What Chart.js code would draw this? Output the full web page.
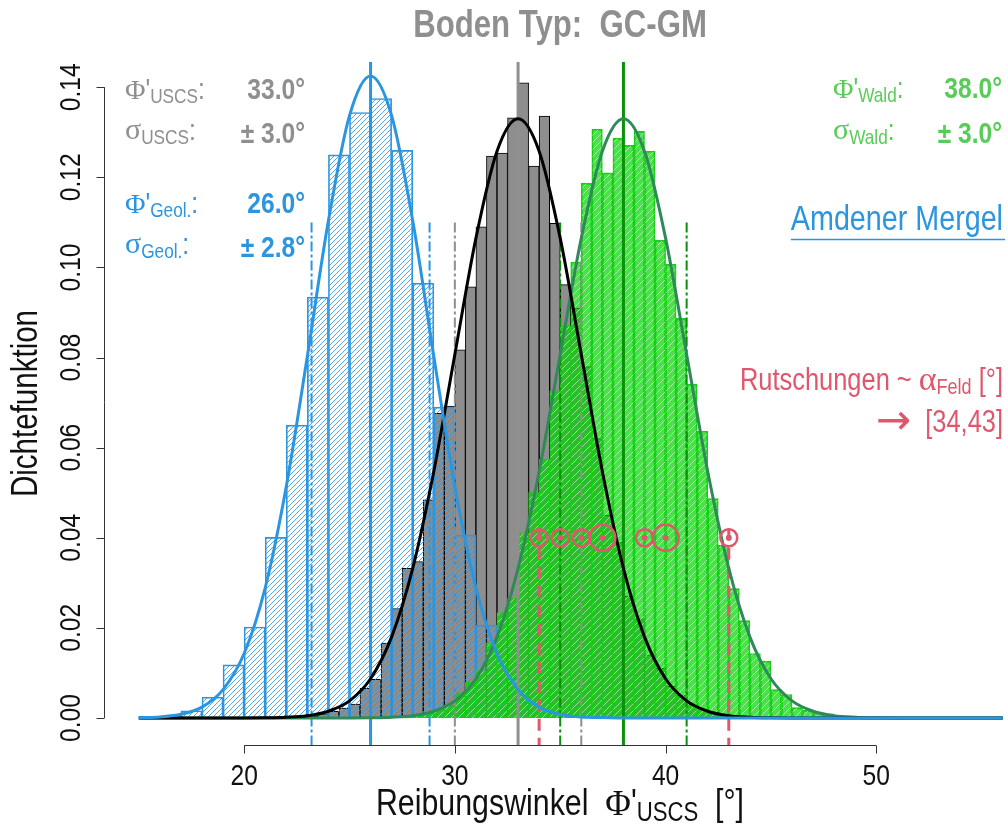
<!DOCTYPE html>
<html>
<head>
<meta charset="utf-8">
<script src="https://cdn.jsdelivr.net/npm/chart.js@4.4.1/dist/chart.umd.min.js"></script>
<style>
  html, body { margin: 0; padding: 0; background: #fff; overflow: hidden; }
  canvas { display: block; }
</style>
</head>
<body>
<canvas id="chart" width="1008" height="830"></canvas>
<script>
// ---- data ----
const geolMean = 26.0, geolSd = 2.8;   // Amdener Mergel (blue)
const uscsMean = 33.0, uscsSd = 3.0;   // USCS GC-GM (grey)
const waldMean = 38.0, waldSd = 3.0;   // Wald (green)

// blue histogram, bin width 1 starting at 16
const blueStart = 16, blueWidth = 1;
const blueHist = [0.0004, 0.0016, 0.0046, 0.0118, 0.0202, 0.0401, 0.065, 0.0934, 0.125, 0.1344,
                  0.1375, 0.126, 0.0965, 0.069, 0.0406, 0.0206, 0.0088, 0.0035, 0.0012];

// grey histogram, bin width 0.5 starting at 23
const greyStart = 23, greyWidth = 0.5;
const greyHist = [0.0004, 0.0009, 0.0015, 0.0022, 0.0031, 0.0066, 0.0086, 0.0166, 0.0243, 0.0332,
                  0.0347, 0.0484, 0.0676, 0.0692, 0.0817, 0.0957, 0.109, 0.1247, 0.1254, 0.1332,
                  0.141, 0.1225, 0.1336, 0.1098, 0.0962, 0.091, 0.078, 0.062, 0.045, 0.039,
                  0.027, 0.022, 0.014, 0.011, 0.007, 0.005, 0.003, 0.002, 0.001, 0.0006];

// green histogram, bin width 0.5 starting at 27.5
const greenStart = 27.5, greenWidth = 0.5;
const greenHist = [0.0003, 0.0006, 0.001, 0.0017, 0.0029, 0.0055, 0.008, 0.0105, 0.0166, 0.0234,
                   0.0266, 0.0411, 0.05, 0.0574, 0.0726, 0.087, 0.1012, 0.1187, 0.1307, 0.121,
                   0.1287, 0.1271, 0.1302, 0.1258, 0.106, 0.1007, 0.0887, 0.0741, 0.0637, 0.0487,
                   0.0383, 0.0287, 0.0216, 0.0143, 0.0126, 0.0063, 0.0052, 0.0023, 0.0017, 0.0011, 0.0009];

// density curves, read at whole degrees
const curveX = [15, 16, 17, 18, 19, 20, 21, 22, 23, 24, 25, 26, 27, 28, 29, 30, 31, 32, 33, 34, 35,
                36, 37, 38, 39, 40, 41, 42, 43, 44, 45, 46, 47, 48, 49, 50, 51, 52, 53, 54, 55, 56];
const blueCurve = [0.00006, 0.00024, 0.00081, 0.0024, 0.0063, 0.0143, 0.0289, 0.0514, 0.0803, 0.1104,
                   0.1337, 0.1425, 0.1337, 0.1104, 0.0803, 0.0514, 0.0289, 0.0143, 0.0063, 0.0024,
                   0.0008, 0.0002, 0.0001, 0, 0, 0, 0, 0, 0, 0, 0, 0, 0, 0, 0, 0, 0, 0, 0, 0, 0, 0];
const greyCurve = [0, 0, 0, 0, 0, 0, 0.00004, 0.00016, 0.0005, 0.0015, 0.0038, 0.0087, 0.018, 0.0332,
                   0.0547, 0.0807, 0.1065, 0.1258, 0.133, 0.1258, 0.1065, 0.0807, 0.0547, 0.0332, 0.018,
                   0.0087, 0.0038, 0.0015, 0.0005, 0.00016, 0.00004, 0, 0, 0, 0, 0, 0, 0, 0, 0, 0, 0];
const greenCurve = [0, 0, 0, 0, 0, 0, 0, 0, 0, 0, 0, 0.00004, 0.00016, 0.0005, 0.0015, 0.0038, 0.0087,
                    0.018, 0.0332, 0.0547, 0.0807, 0.1065, 0.1258, 0.133, 0.1258, 0.1065, 0.0807,
                    0.0547, 0.0332, 0.018, 0.0087, 0.0038, 0.0015, 0.0005, 0.00016, 0.00004, 0, 0, 0, 0, 0, 0];

// landslides (field slope angles), count per angle
const rutschX = [34, 35, 36, 37, 39, 40, 43];
const rutschN = [1, 1, 1, 2, 1, 2, 1];
const rutschLevel = 0.04;
const rutschRange = [34, 43];
const sdLineTop = 0.11;

const xTicks = [20, 30, 40, 50];
const yTicks = [0, 0.02, 0.04, 0.06, 0.08, 0.10, 0.12, 0.14];

// ---- colours ----
const BLUE = '#2B95E0', GREY = '#8F8F8F', GREEN_TXT = '#58CC58', GREEN_LINE = '#0B900B';
const SEAGREEN = '#2E8B57', RED = '#E0566D';

// ---- fonts ----
function hasFont(name) {
    const c = document.createElement('canvas').getContext('2d');
    c.font = '40px monospace';
    const a = c.measureText('abcdefghijklmnopqrstuvw').width;
    c.font = `40px "${name}", monospace`;
    const b = c.measureText('abcdefghijklmnopqrstuvw').width;
    return a !== b;
}
const narrow = hasFont('Liberation Sans Narrow');
const SANS = narrow ? '"Liberation Sans Narrow"' : '"Liberation Sans", Arial';
const SX = narrow ? 1 : 0.82;
const SERIF = '"Liberation Serif", "DejaVu Serif", serif';

const canvas = document.getElementById('chart');
const ctx = canvas.getContext('2d');

function fontOf(p) {
    return `${p.bold ? 'bold ' : ''}${p.size}px ${p.serif ? SERIF : (p.family || SANS)}`;
}

// draw a row of text pieces (sub-/superscripts, symbols) on one baseline
function drawRich(g, parts, x, y, align, color, rotate) {
    let total = 0;
    parts.forEach(p => {
        g.font = fontOf(p);
        p.w = g.measureText(p.s).width * (p.serif || p.family ? 1 : SX);
        total += p.w;
    });
    g.save();
    g.translate(x, y);
    if (rotate) g.rotate(rotate);
    let cx = align === 'right' ? -total : align === 'center' ? -total / 2 : 0;
    const start = cx;
    g.fillStyle = color;
    g.textBaseline = 'alphabetic';
    g.textAlign = 'left';
    parts.forEach(p => {
        g.save();
        g.font = fontOf(p);
        g.translate(cx, p.dy || 0);
        if (!(p.serif || p.family)) g.scale(SX, 1);
        g.fillText(p.s, 0, 0);
        g.restore();
        cx += p.w;
    });
    g.restore();
    return { left: x + start, right: x + start + total };
}

// ---- hatch patterns ----
function hatch(size, bg, line, lw) {
    const c = document.createElement('canvas');
    c.width = c.height = size;
    const g = c.getContext('2d');
    if (bg) { g.fillStyle = bg; g.fillRect(0, 0, size, size); }
    g.strokeStyle = line;
    g.lineWidth = lw;
    g.beginPath();
    g.moveTo(0, size); g.lineTo(size, 0);
    g.moveTo(-size / 2, size / 2); g.lineTo(size / 2, -size / 2);
    g.moveTo(size / 2, size * 1.5); g.lineTo(size * 1.5, size / 2);
    g.stroke();
    return ctx.createPattern(c, 'repeat');
}
const bluePattern = hatch(5, null, 'rgba(43,149,224,0.9)', 0.9);
const greenPattern = hatch(7, 'rgba(0,211,0,0.70)', 'rgba(255,255,255,0.5)', 1);

const toBars = (start, width, vals) => vals.map((v, i) => ({ x: start + (i + 0.5) * width, y: v }));
const toLine = (ys) => curveX.map((x, i) => ({ x: x, y: ys[i] }));

const X_MIN = 13.35, X_MAX = 56.25;
const hiddenX = {
    type: 'linear', min: X_MIN, max: X_MAX, display: false, offset: false,
    grid: { offset: false },
    afterBuildTicks: axis => { axis.ticks = []; }
};

// ---- reference lines, axes and texts ----
function vline(chart, x, yTop, color, width, dash) {
    const area = chart.chartArea;
    const px = chart.scales.x.getPixelForValue(x);
    const top = yTop == null ? area.top : chart.scales.y.getPixelForValue(yTop);
    const g = chart.ctx;
    g.save();
    g.strokeStyle = color;
    g.lineWidth = width;
    g.setLineDash(dash || []);
    g.beginPath();
    g.moveTo(px, top);
    g.lineTo(px, area.bottom);
    g.stroke();
    g.restore();
}

function drawRefLines(chart) {
    const dashDot = [10, 3, 3, 3];
    vline(chart, geolMean - geolSd, sdLineTop, BLUE, 2, dashDot);
    vline(chart, geolMean + geolSd, sdLineTop, BLUE, 2, dashDot);
    vline(chart, uscsMean - uscsSd, sdLineTop, GREY, 2, dashDot);
    vline(chart, uscsMean + uscsSd, sdLineTop, GREY, 2, dashDot);
    vline(chart, waldMean - waldSd, sdLineTop, GREEN_LINE, 2, dashDot);
    vline(chart, waldMean + waldSd, sdLineTop, GREEN_LINE, 2, dashDot);
    vline(chart, rutschRange[0], rutschLevel + 0.002, RED, 3, [12, 7]);
    vline(chart, rutschRange[1], rutschLevel + 0.002, RED, 3, [12, 7]);
    vline(chart, geolMean, null, BLUE, 3);
    vline(chart, uscsMean, null, GREY, 3);
    vline(chart, waldMean, null, GREEN_LINE, 3);
}

function drawAxes(chart) {
    const g = chart.ctx, xs = chart.scales.x, ys = chart.scales.y, area = chart.chartArea;
    g.save();
    g.strokeStyle = '#333';
    g.lineWidth = 1;
    const yA = Math.round(area.bottom) + 0.5;
    g.beginPath();
    g.moveTo(xs.getPixelForValue(xTicks[0]), yA);
    g.lineTo(xs.getPixelForValue(xTicks[xTicks.length - 1]), yA);
    xTicks.forEach(t => {
        const px = Math.round(xs.getPixelForValue(t)) + 0.5;
        g.moveTo(px, yA); g.lineTo(px, yA + 8);
    });
    const xA = Math.round(area.left) + 0.5;
    g.moveTo(xA, ys.getPixelForValue(yTicks[0]));
    g.lineTo(xA, ys.getPixelForValue(yTicks[yTicks.length - 1]));
    yTicks.forEach(t => {
        const py = Math.round(ys.getPixelForValue(t)) + 0.5;
        g.moveTo(xA, py); g.lineTo(xA - 8, py);
    });
    g.stroke();
    g.restore();

    xTicks.forEach(t => drawRich(g, [{ s: String(t), size: 30 }], xs.getPixelForValue(t), yA + 39, 'center', '#111'));
    yTicks.forEach(t => drawRich(g, [{ s: t.toFixed(2), size: 30 }], 80, ys.getPixelForValue(t), 'center', '#111', -Math.PI / 2));

    const midX = (area.left + area.right) / 2;
    drawRich(g, [
        { s: 'Reibungswinkel  ', size: 37 },
        { s: 'Φ', size: 35, serif: true },
        { s: "'", size: 37 },
        { s: 'USCS', size: 27, dy: 6 },
        { s: '  [°]', size: 37 }
    ], midX + 4, 815, 'center', '#111');
    drawRich(g, [{ s: 'Dichtefunktion', size: 36 }], 37, (area.top + area.bottom) / 2, 'center', '#111', -Math.PI / 2);
}

function statRow(g, sym, sub, value, xl, xr, y, color) {
    const parts = sym === 'Φ'
        ? [{ s: 'Φ', size: 28, serif: true }, { s: "'", size: 30 }, { s: sub, size: 21, dy: 4 }, { s: ':', size: 30 }]
        : [{ s: 'σ', size: 30, serif: true, dy: -4 }, { s: sub, size: 21, dy: 1 }, { s: ':', size: 30, dy: -3 }];
    drawRich(g, parts, xl, y, 'left', color);
    drawRich(g, [{ s: value, size: 30, bold: true }], xr, y, 'right', color);
}

function drawTexts(chart) {
    const g = chart.ctx, area = chart.chartArea;
    drawRich(g, [{ s: 'Boden Typ:  GC-GM', size: 38, bold: true }], (area.left + area.right) / 2 + 4, 37, 'center', GREY);

    statRow(g, 'Φ', 'USCS', uscsMean.toFixed(1) + '°', 125, 305, 99, GREY);
    statRow(g, 'σ', 'USCS', '± ' + uscsSd.toFixed(1) + '°', 125, 305, 143, GREY);
    statRow(g, 'Φ', 'Geol.', geolMean.toFixed(1) + '°', 125, 305, 213, BLUE);
    statRow(g, 'σ', 'Geol.', '± ' + geolSd.toFixed(1) + '°', 125, 305, 257, BLUE);
    statRow(g, 'Φ', 'Wald', waldMean.toFixed(1) + '°', 833, 1002, 98, GREEN_TXT);
    statRow(g, 'σ', 'Wald', '± ' + waldSd.toFixed(1) + '°', 833, 1002, 143, GREEN_TXT);

    const span = drawRich(g, [{ s: 'Amdener Mergel', size: 35 }], 1003, 230, 'right', BLUE);
    g.save();
    g.strokeStyle = BLUE;
    g.lineWidth = 1.5;
    g.beginPath();
    g.moveTo(span.left, 239.5);
    g.lineTo(span.right + 2, 239.5);
    g.stroke();
    g.restore();

    drawRich(g, [
        { s: 'Rutschungen ~ ', size: 31 },
        { s: 'α', size: 34, serif: true },
        { s: 'Feld', size: 22, dy: 4 },
        { s: ' [°]', size: 31 }
    ], 1003, 390, 'right', RED);
    drawRich(g, [
        { s: '→', size: 42, family: '"DejaVu Sans"', dy: 2 },
        { s: '  [' + rutschRange[0] + ',' + rutschRange[1] + ']', size: 31 }
    ], 1003, 432, 'right', RED);
}

const decor = {
    id: 'decor',
    afterDatasetDraw(chart, args) {
        if (args.meta.controller.getDataset().label === 'Wald hist') drawRefLines(chart);
    },
    afterDraw(chart) {
        drawAxes(chart);
        drawTexts(chart);
    }
};

const barCommon = { type: 'bar', grouped: false, barPercentage: 1, categoryPercentage: 1, borderSkipped: 'start' };
const lineCommon = { type: 'line', xAxisID: 'x', pointRadius: 0, borderWidth: 3, fill: false,
                     cubicInterpolationMode: 'monotone' };

new Chart(ctx, {
    data: {
        datasets: [
            { ...barCommon, label: 'USCS hist', xAxisID: 'xg', order: 10,
              data: toBars(greyStart, greyWidth, greyHist),
              backgroundColor: '#8E8E8E', borderColor: '#000', borderWidth: 1 },
            { ...barCommon, label: 'Geol hist', xAxisID: 'xb', order: 9,
              data: toBars(blueStart, blueWidth, blueHist),
              backgroundColor: bluePattern, borderColor: BLUE, borderWidth: 1 },
            { ...barCommon, label: 'Wald hist', xAxisID: 'xn', order: 8,
              data: toBars(greenStart, greenWidth, greenHist),
              backgroundColor: greenPattern, borderColor: '#1ECB1E', borderWidth: 1 },
            { ...lineCommon, label: 'Wald', order: 3, data: toLine(greenCurve), borderColor: SEAGREEN },
            { ...lineCommon, label: 'USCS', order: 2, data: toLine(greyCurve), borderColor: '#000' },
            { ...lineCommon, label: 'Geol', order: 1, data: toLine(blueCurve), borderColor: BLUE },
            { type: 'scatter', label: 'Rutschungen', xAxisID: 'x', order: 0,
              data: rutschX.map(x => ({ x: x, y: rutschLevel })),
              pointRadius: c => rutschN[c.dataIndex] > 1 ? 13 : 8.5,
              pointBorderWidth: 2.5, pointBorderColor: RED, pointBackgroundColor: 'rgba(0,0,0,0)' },
            { type: 'scatter', label: 'Rutschungen Punkt', xAxisID: 'x', order: 0,
              data: rutschX.map(x => ({ x: x, y: rutschLevel })),
              pointRadius: 3, pointBorderWidth: 0, pointBackgroundColor: RED }
        ]
    },
    options: {
        responsive: false,
        animation: false,
        devicePixelRatio: 1,
        layout: { autoPadding: false, padding: { left: 104, right: 0, top: 62, bottom: 85 } },
        plugins: { legend: { display: false }, tooltip: { enabled: false } },
        scales: {
            x: { ...hiddenX },
            xb: { ...hiddenX },
            xg: { ...hiddenX },
            xn: { ...hiddenX },
            y: { type: 'linear', min: -0.006, max: 0.1456, display: false }
        }
    },
    plugins: [decor]
});
</script>
</body>
</html>
